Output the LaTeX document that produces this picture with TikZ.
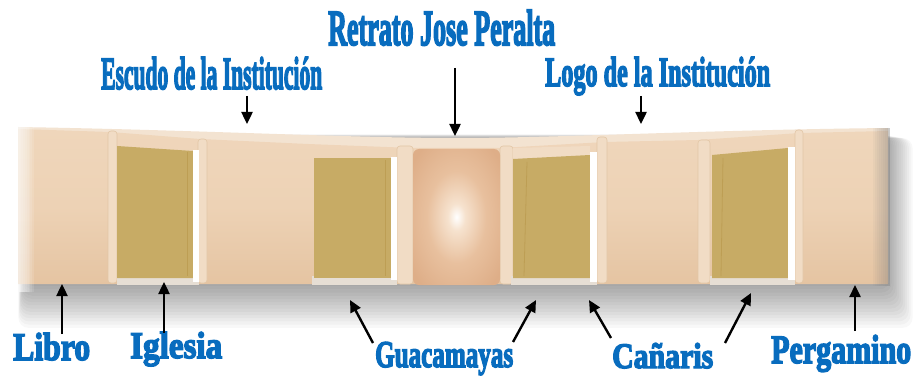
\documentclass[tikz,border=0pt]{standalone}
\usepackage{fontspec}
\setmainfont{Liberation Serif}
\newfontfamily\heavyfont{Liberation Serif}[BoldFeatures={FakeBold=4}]
\usetikzlibrary{arrows.meta}
\definecolor{lblblue}{RGB}{8,108,190}
\definecolor{topface}{RGB}{243,227,209}
\definecolor{paneltop}{RGB}{239,214,187}
\definecolor{panelmid}{RGB}{237,210,181}
\definecolor{panelbot}{RGB}{229,196,162}
\definecolor{olive}{RGB}{199,171,101}
\definecolor{olivedark}{RGB}{183,150,74}
\definecolor{floorcol}{RGB}{230,222,212}
\definecolor{rimline}{RGB}{226,198,166}
\definecolor{rimfill}{RGB}{241,220,197}
\definecolor{ctrout}{RGB}{222,174,136}
\definecolor{ctrmid}{RGB}{232,192,158}
\definecolor{ctrglow}{RGB}{246,226,206}
\pgfdeclareradialshading{ctrglowshade}{\pgfpoint{0bp}{0bp}}{color(0bp)=(white); color(5bp)=(ctrglow); color(17bp)=(ctrmid); color(32bp)=(ctrout); color(50bp)=(ctrout)}
\tikzset{
  lbl/.style={inner sep=0pt, text=lblblue, font=\heavyfont\bfseries},
  arr/.style={draw=black, line width=2.4pt, -{Triangle[length=12pt,width=11pt]}},
  olivepanel/.style={fill=olive},
  whitestrip/.style={fill=white},
  rim/.style={draw=rimline, line width=0.6pt, fill=rimfill, rounded corners=3pt},
}
\newcommand\tlabel[6]{%
  \node[lbl, anchor=base west] (#1) at (#2,#3) {\resizebox{#4pt}{#5pt}{#6}};}
\begin{document}
\begin{tikzpicture}[x=1pt,y=-1pt]
\useasboundingbox (0,0) rectangle (918,377);
\fill[white] (0,0) rectangle (918,377);
% soft shadow
\foreach \i in {1,...,14}{
  \fill[black, opacity=0.028, rounded corners=10pt] ({24-\i*0.4},{134+\i*0.3}) rectangle ({886+\i*1.9},{283+\i*3.2});
}
% band top face
\fill[topface] (18,127) .. controls (200,130) and (350,138) .. (455,138) .. controls (560,138) and (700,130) .. (888,128) -- (888,283) -- (18,283) -- cycle;
% front face
\shade[top color=paneltop, bottom color=panelbot, middle color=panelmid]
  (18,129) -- (110,132) -- (200,139) -- (308,144) -- (413,148) -- (500,148) -- (605,142) -- (698,140) -- (800,133) -- (888,131) -- (888,284) -- (18,284) -- cycle;
% rims
\draw[rim] (108,131) rectangle (117,283);
\draw[rim] (198,139) rectangle (207,283);
\draw[rim] (397,146) rectangle (413,284);
\draw[rim] (500,146) rectangle (513,284);
\draw[rim] (597,137) rectangle (607,283);
\draw[rim] (698,140) rectangle (710,283);
\draw[rim] (795,130) rectangle (803,283);
% recess floors
\fill[floorcol] (117,276) rectangle (199,285);
\fill[floorcol] (312,276) rectangle (397,285);
\fill[floorcol] (511,276) rectangle (597,285);
\fill[floorcol] (710,276) rectangle (795,285);
% olive panels
\fill[olivepanel] (117,146) -- (193,151) -- (193,278) -- (117,278) -- cycle;
\fill[olivepanel] (314,158) -- (391,158) -- (391,278) -- (314,278) -- cycle;
\fill[rimfill] (513,148) -- (590,146) -- (590,156) -- (513,159) -- cycle;
\fill[olivepanel] (513,159) -- (590,155) -- (590,278) -- (513,278) -- cycle;
\fill[olivepanel] (712,155) -- (788,148) -- (788,278) -- (712,278) -- cycle;
\draw[olivedark, line width=0.8pt, opacity=0.6] (187,152) -- (187,276);
\draw[olivedark, line width=0.8pt, opacity=0.6] (385,160) -- (385,276);
\draw[olivedark, line width=0.8pt, opacity=0.6] (527,162) -- (524,276);
\draw[olivedark, line width=0.8pt, opacity=0.6] (723,158) -- (721,276);
% white strips
\fill[whitestrip] (193,150) rectangle (199,282);
\fill[whitestrip] (391,157) rectangle (397,280);
\fill[whitestrip] (590,152) rectangle (597,282);
\fill[whitestrip] (788,147) rectangle (795,280);
% center panel
\shade[shading=ctrglowshade, rounded corners=6pt] (413,149) rectangle (500,285);
% soft ends
\foreach \i in {1,...,10}{
  \fill[white, opacity=0.12] (10,120) rectangle ({16+\i*1.8},292);
}
\foreach \i in {1,...,8}{
  \fill[gray, opacity=0.06] ({889-\i*2},128) rectangle (890,286);
}
% labels
\tlabel{retrato}{328}{45}{227}{35}{Retrato Jose Peralta}
\tlabel{escudo}{101}{89}{221}{32}{Escudo de la Institución}
\tlabel{logo}{545}{86}{225}{29}{Logo de la Institución}
\tlabel{libro}{13}{360}{77}{27}{Libro}
\tlabel{iglesia}{130}{358}{92}{26}{Iglesia}
\tlabel{guaca}{375}{367}{138}{25}{Guacamayas}
\tlabel{canaris}{612}{368}{101}{25}{Cañaris}
\tlabel{perg}{771}{363}{140}{28}{Pergamino}
% arrow end points
\coordinate (escT) at (247,96);  \coordinate (escH) at (247,124);
\coordinate (retT) at (455,68);  \coordinate (retH) at (455,136);
\coordinate (logT) at (641,96);  \coordinate (logH) at (641,124);
\coordinate (libT) at (62,334);  \coordinate (libH) at (62,284);
\coordinate (iglT) at (164,333); \coordinate (iglH) at (164,282);
\coordinate (gu1T) at (373,343); \coordinate (gu1H) at (350,300);
\coordinate (gu2T) at (513,342); \coordinate (gu2H) at (536,300);
\coordinate (ca1T) at (611,338); \coordinate (ca1H) at (589,300);
\coordinate (ca2T) at (725,343); \coordinate (ca2H) at (751,293);
\coordinate (perT) at (855,331); \coordinate (perH) at (855,285);
\foreach \a in {esc,ret,log,lib,igl,gu1,gu2,ca1,ca2,per}{
  \draw[arr] (\a T) -- (\a H);
}
\end{tikzpicture}
\end{document}
